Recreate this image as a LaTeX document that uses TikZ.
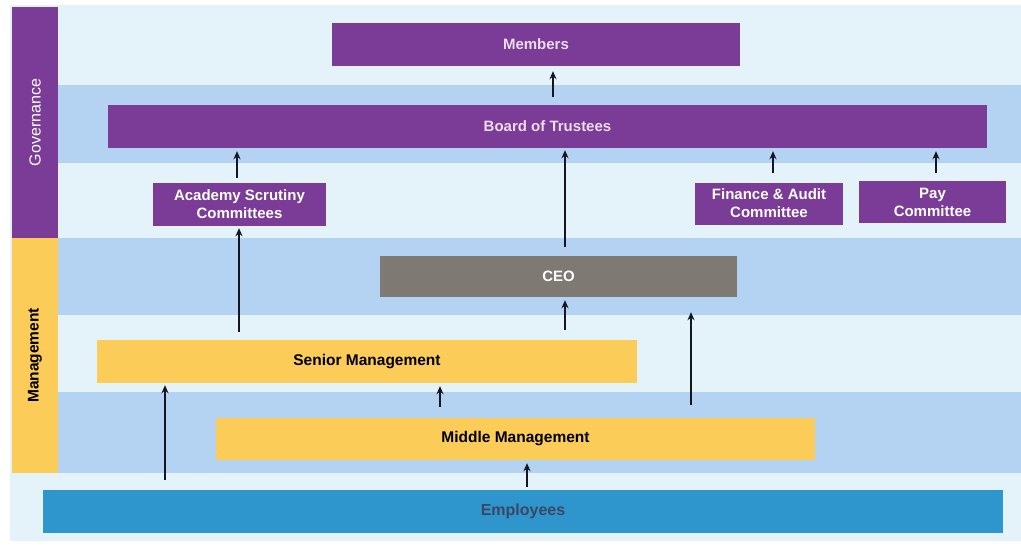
\documentclass[tikz,border=0pt]{standalone}
\usepackage{fontspec}
\setmainfont{Liberation Sans}
\usetikzlibrary{arrows.meta}
\definecolor{lightbg}{RGB}{228,242,250}
\definecolor{band}{RGB}{180,210,242}
\definecolor{purp}{RGB}{122,60,150}
\definecolor{purptext}{RGB}{236,220,236}
\definecolor{ceogray}{RGB}{126,121,114}
\definecolor{yel}{RGB}{252,204,88}
\definecolor{empblue}{RGB}{47,150,205}
\definecolor{emptext}{RGB}{60,70,100}
\definecolor{arrcol}{RGB}{20,22,35}
\tikzset{
  box/.style={rectangle, inner sep=0pt, align=center, font=\fontsize{15}{18}\selectfont\bfseries},
  gbox/.style={box, fill=purp, text=white},
  ybox/.style={box, fill=yel, text=black, font=\fontsize{15.5}{18}\selectfont\bfseries},
  arr/.style={draw=arrcol, line width=2.8pt, -{Stealth[length=8pt,width=7pt]}},
}
\begin{document}
\begin{tikzpicture}[x=1pt,y=-1pt]
\useasboundingbox (0,0) rectangle (1021,544);
\fill[white] (0,0) rectangle (1021,544);
% background
\fill[lightbg] (10,5) rectangle (1021,541);
\fill[band] (58,85) rectangle (1021,163);
\fill[band] (58,238) rectangle (1021,315);
\fill[band] (58,392) rectangle (1021,473);
% side columns
\node[box, fill=purp, minimum width=46pt, minimum height=231pt] (gov) at (35,122.5) {};
\node[rotate=90, text=white, font=\fontsize{16}{18}\selectfont] (govt) at (gov.center) {Governance};
\node[box, fill=yel, minimum width=46pt, minimum height=235pt] (mgmt) at (35,355.5) {};
\node[rotate=90, text=black, font=\fontsize{15.5}{18}\selectfont\bfseries] (mgmtt) at (mgmt.center) {Management};
% boxes
\node[gbox, text=purptext, minimum width=408pt, minimum height=43pt] (members) at (536,44.5) {Members};
\node[gbox, text=purptext, minimum width=879pt, minimum height=43pt] (board) at (547.5,126.5) {Board of Trustees};
\node[gbox, minimum width=173pt, minimum height=43pt] (acad) at (239.5,204.5) {Academy Scrutiny\\Committees};
\node[gbox, minimum width=148pt, minimum height=42pt] (fin) at (769,203.5) {Finance \& Audit\\Committee};
\node[gbox, minimum width=147pt, minimum height=42pt] (pay) at (932.5,202) {Pay\\Committee};
\node[box, fill=ceogray, text=white, minimum width=357pt, minimum height=41pt] (ceo) at (558.5,276.5) {CEO};
\node[ybox, minimum width=540pt, minimum height=43pt] (senior) at (367,361.5) {Senior Management};
\node[ybox, minimum width=599pt, minimum height=42pt] (middle) at (515.5,439) {Middle Management};
\node[box, fill=empblue, text=emptext, font=\fontsize{16}{18}\selectfont\bfseries, minimum width=960pt, minimum height=43pt] (emp) at (523,511.5) {Employees};
% arrow x positions
\coordinate (xa) at (553,0);
\coordinate (xb) at (237,0);
\coordinate (xc) at (565,0);
\coordinate (xd) at (773,0);
\coordinate (xe) at (936,0);
\coordinate (xf) at (239,0);
\coordinate (xg) at (691,0);
\coordinate (xh) at (440,0);
\coordinate (xi) at (165,0);
\coordinate (xj) at (527,0);
% arrows
\draw[arr, shorten <=8pt, shorten >=5pt] (xa |- board.north) -- (xa |- members.south);
\draw[arr, shorten <=5pt, shorten >=3pt] (xb |- acad.north) -- (xb |- board.south);
\draw[arr, shorten <=9pt, shorten >=2pt] (xc |- ceo.north) -- (xc |- board.south);
\draw[arr, shorten <=9pt, shorten >=3pt] (xd |- fin.north) -- (xd |- board.south);
\draw[arr, shorten <=8pt, shorten >=3pt] (xe |- pay.north) -- (xe |- board.south);
\draw[arr, shorten <=8pt, shorten >=2pt] (xf |- senior.north) -- (xf |- acad.south);
\draw[arr, shorten <=10pt, shorten >=3pt] (xc |- senior.north) -- (xc |- ceo.south);
\draw[arr, shorten <=13pt, shorten >=15pt] (xg |- middle.north) -- (xg |- ceo.south);
\draw[arr, shorten <=11pt, shorten >=3pt] (xh |- middle.north) -- (xh |- senior.south);
\draw[arr, shorten <=10pt, shorten >=2pt] (xi |- emp.north) -- (xi |- senior.south);
\draw[arr, shorten <=3pt, shorten >=3pt] (xj |- emp.north) -- (xj |- middle.south);
\end{tikzpicture}
\end{document}
